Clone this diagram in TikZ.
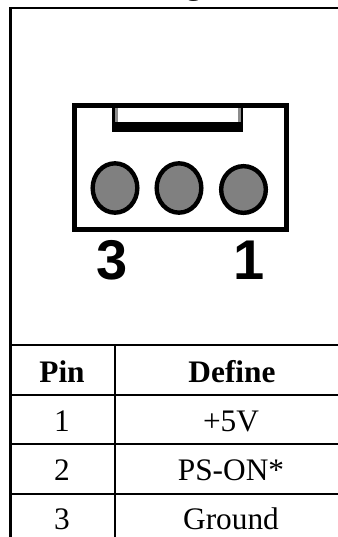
\documentclass[tikz,border=0pt]{standalone}
\usepackage{fontspec}
\setmainfont{Liberation Serif}
\newfontfamily\labelfont{Liberation Sans}
\usetikzlibrary{shapes.geometric}
\begin{document}
\begin{tikzpicture}[x=0.75pt,y=-0.75pt,font=\fontsize{23.5}{26}\selectfont]
    \tikzstyle{frame line}=[draw,line width=2pt]
    \tikzstyle{grid line}=[draw,line width=1.7pt]
    \tikzstyle{pin hole}=[ellipse,draw,line width=3.3pt,fill=black!50,minimum width=33.5pt,minimum height=37pt,inner sep=0]
    \tikzstyle{pin label}=[font=\labelfont\bfseries\fontsize{42}{42}\selectfont,inner sep=0]
    \tikzstyle{cell}=[inner sep=0,anchor=base]

    \useasboundingbox (0,0) rectangle (338,537);
    \begin{scope}
        \clip (0,0) rectangle (338,537);
        \node[cell,font=\bfseries\fontsize{23.5}{26}\selectfont](title) at (194,-6){g};

        % outer frame and table lines
        \draw[frame line](338,8)--(10.5,8)--(10.5,537);
        \draw[grid line](10,345)--(338,345);
        \draw[grid line](10,395)--(338,395);
        \draw[grid line](10,444)--(338,444);
        \draw[grid line](10,494)--(338,494);
        \draw[grid line](115,345)--(115,537);

        % connector body
        \draw[line width=3.4pt](74.5,105.5) rectangle (286.5,229.5);
        \fill(112,106) rectangle (243,132);
        \fill[black!45](115,108) rectangle (241,122);
        \fill[white](118,108) rectangle (238,122);

        \node[pin hole](hole3) at (115,188){};
        \node[pin hole](hole2) at (179,188){};
        \node[pin hole,minimum height=35pt](hole1) at (243.5,189.5){};

        \node[pin label](num3) at (112,260){3};
        \node[pin label](num1) at (249,260){1};

        % table text
        \node[cell,font=\bfseries\fontsize{23.5}{26}\selectfont](pinhead) at (62,382){Pin};
        \node[cell,font=\bfseries\fontsize{23.5}{26}\selectfont](definehead) at (232,382){Define};
        \node[cell](pin1) at (62,431){1};
        \node[cell](def1) at (231,431){+5V};
        \node[cell](pin2) at (62,480){2};
        \node[cell](def2) at (231,480){PS-ON*};
        \node[cell](pin3) at (62,529){3};
        \node[cell](def3) at (231,529){Ground};
    \end{scope}
\end{tikzpicture}
\end{document}
